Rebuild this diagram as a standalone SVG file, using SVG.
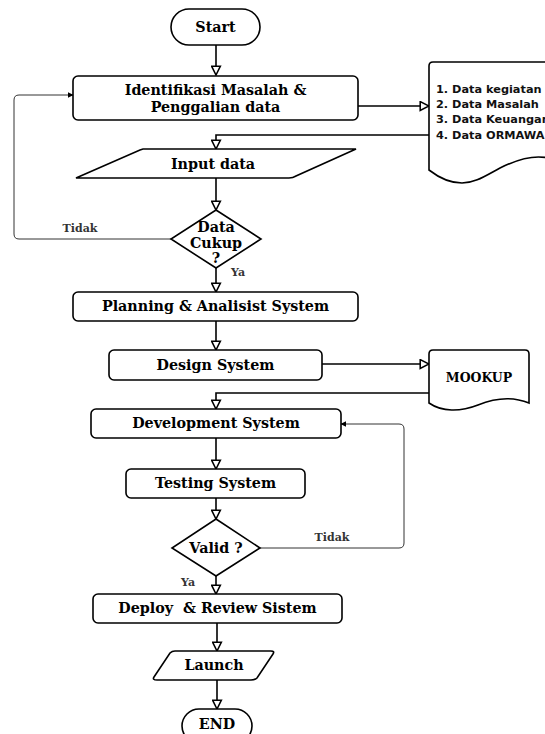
<svg xmlns="http://www.w3.org/2000/svg" width="545" height="734" viewBox="0 0 545 734">
<defs>
<marker id="open" viewBox="0 0 10 10" refX="9" refY="5" markerWidth="11" markerHeight="11" orient="auto" markerUnits="userSpaceOnUse"><path d="M1,1 L9,5 L1,9 Z" fill="#fff" stroke="#000" stroke-width="1.4"/></marker>
<marker id="fill" viewBox="0 0 10 10" refX="9" refY="5" markerWidth="6" markerHeight="6" orient="auto" markerUnits="userSpaceOnUse"><path d="M0,0 L10,5 L0,10 Z" fill="#000"/></marker>
<style>
.n{fill:#fff;stroke:#000;stroke-width:1.6}
.c{fill:none;stroke:#000;stroke-width:1.6}
.l{fill:none;stroke:#333;stroke-width:1}
.t{font-family:"DejaVu Serif","Liberation Serif",serif;font-weight:bold;font-size:14.3px;fill:#000;text-anchor:middle}
.s{font-family:"DejaVu Serif","Liberation Serif",serif;font-weight:bold;font-size:11px;fill:#333;text-anchor:middle}
.d{font-family:"DejaVu Sans",Verdana,sans-serif;font-weight:bold;font-size:11.3px;fill:#111}
</style>
</defs>
<rect width="545" height="734" fill="#fff"/>
<g id="connectors">
<path class="c" d="M216,45 V75" marker-end="url(#open)"/>
<path class="c" d="M358,106 H429" marker-end="url(#open)"/>
<path class="c" d="M429,135 H216 V149" marker-end="url(#open)"/>
<path class="c" d="M216,178 V210" marker-end="url(#open)"/>
<path class="l" d="M171,239 H19 Q14,239 14,234 V100 Q14,95 19,95 H73" marker-end="url(#fill)"/>
<path class="c" d="M216,268 V292" marker-end="url(#open)"/>
<path class="c" d="M216,321 V350" marker-end="url(#open)"/>
<path class="c" d="M322,364 H429" marker-end="url(#open)"/>
<path class="c" d="M429,393 H216 V409" marker-end="url(#open)"/>
<path class="c" d="M216,438 V469" marker-end="url(#open)"/>
<path class="c" d="M216,498 V519" marker-end="url(#open)"/>
<path class="l" d="M260,548 H399 Q404,548 404,543 V429 Q404,424 399,424 H341" marker-end="url(#fill)"/>
<path class="c" d="M216,576 V594" marker-end="url(#open)"/>
<path class="c" d="M217,623 V651" marker-end="url(#open)"/>
<path class="c" d="M217,680 V709" marker-end="url(#open)"/>
<text class="s" x="80" y="232">Tidak</text>
<text class="s" x="238" y="276">Ya</text>
<text class="s" x="332" y="541">Tidak</text>
<text class="s" x="188" y="586">Ya</text>
</g>
<g id="start">
<rect class="n" x="171" y="9" width="89" height="36" rx="18"/>
<text class="t" x="215.5" y="32">Start</text>
</g>
<g id="identifikasi">
<rect class="n" x="73" y="76" width="285" height="44" rx="5"/>
<text class="t" x="215.5" y="95">Identifikasi Masalah &amp;</text>
<text class="t" x="215.5" y="112">Penggalian data</text>
</g>
<g id="data-doc">
<path class="n" d="M548,158 C535,155 520,158 500,168 C485,176 475,183 462,183 C448,183 438,177 429,170 V66 Q429,62 433,62 H548"/>
<text class="d" x="436" y="93">1. Data kegiatan</text>
<text class="d" x="436" y="108">2. Data Masalah</text>
<text class="d" x="436" y="123">3. Data Keuangan</text>
<text class="d" x="436" y="139">4. Data ORMAWA</text>
</g>
<g id="input">
<path class="n" d="M143,149 H356 L296,176 Q293,178 289,178 H76 L140,150 Z"/>
<text class="t" x="213" y="169">Input data</text>
</g>
<g id="cukup">
<path class="n" d="M216,210 L261,239 L216,268 L171,239 Z"/>
<text class="t" x="216" y="232">Data</text>
<text class="t" x="216" y="248">Cukup</text>
<text class="t" x="216" y="263">?</text>
</g>
<g id="planning">
<rect class="n" x="73" y="292" width="285" height="29" rx="5"/>
<text class="t" x="215.5" y="311">Planning &amp; Analisist System</text>
</g>
<g id="design">
<rect class="n" x="109" y="350" width="213" height="30" rx="5"/>
<text class="t" x="215.5" y="370">Design System</text>
</g>
<g id="mookup">
<path class="n" d="M433,350 H525 Q529,350 529,354 V403 C512,396 495,398 478,405 C460,412 442,412 429,403 V354 Q429,350 433,350 Z"/>
<text class="t" x="479" y="382" style="font-size:12.5px">MOOKUP</text>
</g>
<g id="development">
<rect class="n" x="91" y="409" width="250" height="29" rx="5"/>
<text class="t" x="216" y="428">Development System</text>
</g>
<g id="testing">
<rect class="n" x="126" y="469" width="179" height="29" rx="5"/>
<text class="t" x="215.5" y="488">Testing System</text>
</g>
<g id="valid">
<path class="n" d="M216,519 L260,548 L216,576 L172,548 Z"/>
<text class="t" x="216" y="553">Valid ?</text>
</g>
<g id="deploy">
<rect class="n" x="93" y="594" width="249" height="29" rx="5"/>
<text class="t" x="217.5" y="613" xml:space="preserve">Deploy  &amp; Review Sistem</text>
</g>
<g id="launch">
<path class="n" d="M175,651 H271 Q275,651 273,654 L257,678 Q255,680 251,680 H157 Q152,680 154,677 L170,653 Q172,651 175,651 Z"/>
<text class="t" x="214" y="670">Launch</text>
</g>
<g id="end">
<rect class="n" x="182" y="709" width="70" height="34" rx="17"/>
<text class="t" x="217" y="729">END</text>
</g>
</svg>
